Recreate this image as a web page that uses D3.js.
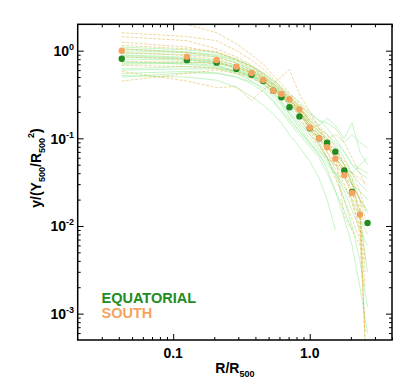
<!DOCTYPE html>
<html>
<head>
<meta charset="utf-8">
<script src="https://cdn.jsdelivr.net/npm/d3@7"></script>
<style>
  body { margin: 0; background: #fff; }
  svg { display: block; font-family: "Liberation Sans", Arial, sans-serif; }
</style>
</head>
<body>
<svg id="chart" width="415" height="390"></svg>
<script>
// mean profiles (dots)
const eqX = [0.042, 0.126, 0.208, 0.29, 0.375, 0.456, 0.54, 0.62, 0.71, 0.84, 1.0, 1.17, 1.34, 1.54, 1.79, 2.04, 2.65];
const eqY = [0.81, 0.78, 0.73, 0.62, 0.53, 0.45, 0.35, 0.294, 0.226, 0.178, 0.13, 0.10, 0.089, 0.0705, 0.043, 0.0244, 0.0108];
const soX = [0.042, 0.126, 0.208, 0.29, 0.375, 0.456, 0.54, 0.62, 0.71, 0.84, 1.0, 1.17, 1.34, 1.54, 1.79, 2.04, 2.33];
const soY = [1.0, 0.855, 0.783, 0.657, 0.556, 0.463, 0.35, 0.321, 0.279, 0.214, 0.132, 0.100, 0.079, 0.0586, 0.0379, 0.0238, 0.0135];

// individual cluster profiles
const eqLineX = [0.042, 0.126, 0.208, 0.29, 0.375, 0.456, 0.54, 0.62, 0.71, 0.84, 1.0, 1.17, 1.34, 1.54, 1.79, 2.04, 2.33, 2.65];
const eqLines = [
  [1.10, 1.02, 0.95, 0.80, 0.66, 0.55, 0.45, 0.37, 0.30, 0.24, 0.19, 0.16, 0.15, 0.13, 0.09, 0.11, 0.09, 0.078],
  [0.50, 0.56, 0.55, 0.50, 0.44, 0.38, 0.30, 0.24, 0.17, 0.12, 0.085, 0.065, 0.045, 0.025, 0.012, 0.006, 0.002, 0.0006],
  [0.95, 0.90, 0.85, 0.72, 0.60, 0.50, 0.40, 0.33, 0.26, 0.20, 0.15, 0.12, 0.10, 0.085, 0.06, 0.04, 0.03, 0.025],
  [0.70, 0.72, 0.68, 0.58, 0.50, 0.42, 0.33, 0.26, 0.20, 0.15, 0.11, 0.085, 0.06, 0.04, 0.025, 0.015, 0.009, 0.006],
  [0.85, 0.80, 0.70, 0.55, 0.45, 0.36, 0.26, 0.20, 0.15, 0.11, 0.08, 0.06, 0.04, 0.025, 0.015, 0.009],
  [0.60, 0.62, 0.62, 0.56, 0.50, 0.44, 0.38, 0.32, 0.27, 0.22, 0.16, 0.13, 0.11, 0.09, 0.07, 0.05, 0.045, 0.04],
  [1.00, 0.95, 0.88, 0.75, 0.62, 0.52, 0.42, 0.34, 0.26, 0.19, 0.13, 0.09, 0.06, 0.04, 0.028, 0.02, 0.012, 0.008],
  [0.75, 0.70, 0.66, 0.60, 0.52, 0.45, 0.37, 0.30, 0.24, 0.19, 0.14, 0.11, 0.09, 0.072, 0.05, 0.03, 0.02, 0.014],
  [0.90, 0.84, 0.75, 0.62, 0.52, 0.43, 0.34, 0.27, 0.19, 0.13, 0.09, 0.065, 0.05, 0.04, 0.035, 0.03, 0.025, 0.02],
  [0.55, 0.58, 0.56, 0.50, 0.42, 0.34, 0.27, 0.21, 0.16, 0.12, 0.09, 0.07, 0.06, 0.05, 0.04, 0.03, 0.02, 0.015],
  [0.80, 0.78, 0.74, 0.66, 0.57, 0.50, 0.42, 0.35, 0.29, 0.23, 0.17, 0.14, 0.17, 0.14, 0.10, 0.15, 0.07, 0.05],
  [0.52, 0.50, 0.46, 0.38, 0.30, 0.24, 0.19, 0.15, 0.11, 0.08, 0.055, 0.035, 0.02, 0.009],
  [1.05, 0.97, 0.90, 0.78, 0.67, 0.56, 0.46, 0.38, 0.32, 0.26, 0.20, 0.16, 0.13, 0.10, 0.07, 0.05, 0.04, 0.035],
  [0.72, 0.74, 0.72, 0.63, 0.54, 0.46, 0.38, 0.31, 0.25, 0.20, 0.14, 0.11, 0.085, 0.065, 0.05, 0.035, 0.012, 0.003],
  [0.88, 0.82, 0.78, 0.68, 0.58, 0.49, 0.40, 0.32, 0.23, 0.16, 0.12, 0.10, 0.08, 0.06, 0.045, 0.04, 0.05, 0.06],
  [0.62, 0.66, 0.64, 0.58, 0.50, 0.41, 0.32, 0.25, 0.19, 0.14, 0.10, 0.075, 0.055, 0.038, 0.02, 0.01, 0.004, 0.0012]
];
const soLineX = [0.042, 0.126, 0.208, 0.29, 0.375, 0.456, 0.54, 0.62, 0.71, 0.84, 1.0, 1.17, 1.34, 1.54, 1.79, 2.04, 2.33, 2.55];
const soLines = [
  [2.3, 2.0, 1.6, 1.2, 0.9, 0.7, 0.52, 0.42, 0.33, 0.25, 0.18, 0.14, 0.11, 0.08, 0.05, 0.03, 0.015, 0.004],
  [1.6, 1.45, 1.3, 1.0, 0.78, 0.62, 0.48, 0.38, 0.30, 0.23, 0.16, 0.12, 0.09, 0.07, 0.05, 0.03, 0.02, 0.012],
  [1.45, 1.30, 1.05, 0.85, 0.68, 0.55, 0.44, 0.36, 0.28, 0.20, 0.14, 0.10, 0.07, 0.05, 0.035, 0.025, 0.012, 0.0004],
  [0.58, 0.45, 0.38, 0.39, 0.27, 0.36, 0.42, 0.50, 0.61, 0.32, 0.20, 0.13, 0.09, 0.06, 0.04, 0.025, 0.015, 0.01],
  [0.45, 0.55, 0.60, 0.55, 0.48, 0.42, 0.35, 0.30, 0.25, 0.19, 0.13, 0.10, 0.08, 0.06, 0.04, 0.02, 0.008, 0.002],
  [1.05, 0.95, 0.85, 0.72, 0.60, 0.50, 0.38, 0.33, 0.28, 0.22, 0.15, 0.11, 0.085, 0.065, 0.013, 0.009, 0.006],
  [0.85, 0.80, 0.75, 0.65, 0.55, 0.46, 0.36, 0.31, 0.27, 0.21, 0.13, 0.10, 0.08, 0.06, 0.045, 0.035, 0.02, 0.0004],
  [0.68, 0.66, 0.63, 0.58, 0.52, 0.45, 0.37, 0.32, 0.27, 0.22, 0.16, 0.13, 0.10, 0.11, 0.09, 0.06, 0.04, 0.03],
  [1.25, 1.10, 0.95, 0.78, 0.64, 0.52, 0.40, 0.34, 0.28, 0.21, 0.14, 0.10, 0.07, 0.045, 0.03, 0.018, 0.01, 0.003],
  [0.95, 0.88, 0.80, 0.68, 0.57, 0.48, 0.34, 0.30, 0.26, 0.20, 0.12, 0.085, 0.06, 0.05, 0.045, 0.04, 0.035, 0.03],
  [0.75, 0.74, 0.72, 0.64, 0.56, 0.47, 0.36, 0.29, 0.24, 0.18, 0.11, 0.08, 0.06, 0.035, 0.02, 0.012, 0.007, 0.0006],
  [1.15, 1.05, 0.98, 0.80, 0.66, 0.54, 0.42, 0.36, 0.29, 0.23, 0.15, 0.12, 0.095, 0.075, 0.055, 0.04, 0.025, 0.015]
];

const xMajor = [0.1, 1];
const xMajorLabels = ["0.1", "1.0"];
const xMinor = [0.03, 0.04, 0.05, 0.06, 0.07, 0.08, 0.09, 0.2, 0.3, 0.4, 0.5, 0.6, 0.7, 0.8, 0.9, 2, 3, 4];
const yMajor = [1e-3, 1e-2, 1e-1, 1];
const yMajorExp = ["-3", "-2", "-1", "0"];
const yMinor = [6e-4, 7e-4, 8e-4, 9e-4, 2e-3, 3e-3, 4e-3, 5e-3, 6e-3, 7e-3, 8e-3, 9e-3,
  0.02, 0.03, 0.04, 0.05, 0.06, 0.07, 0.08, 0.09, 0.2, 0.3, 0.4, 0.5, 0.6, 0.7, 0.8, 0.9];
const legend = [
  { name: "EQUATORIAL", color: "#228B22" },
  { name: "SOUTH", color: "#F4A460" }
];

const svg = d3.select("#chart");
const m = { left: 77.7, right: 392, top: 24.3, bottom: 340 };
const x = d3.scaleLog().domain([0.02, 4]).range([m.left, m.right]);
const y = d3.scaleLog().domain([5e-4, 2]).range([m.bottom, m.top]);

svg.append("defs").append("clipPath").attr("id", "plotclip")
  .append("rect").attr("x", m.left).attr("y", m.top)
  .attr("width", m.right - m.left).attr("height", m.bottom - m.top);

const plot = svg.append("g").attr("clip-path", "url(#plotclip)");

const line = xs => d3.line().x((d, i) => x(xs[i])).y(d => y(d));

plot.append("g").attr("class", "eq-lines")
  .selectAll("path").data(eqLines).join("path")
  .attr("d", d => line(eqLineX)(d))
  .attr("fill", "none")
  .attr("stroke", "#98ec98")
  .attr("stroke-opacity", 0.7)
  .attr("stroke-width", 0.8);

plot.append("g").attr("class", "so-lines")
  .selectAll("path").data(soLines).join("path")
  .attr("d", d => line(soLineX)(d))
  .attr("fill", "none")
  .attr("stroke", "#DAA520")
  .attr("stroke-opacity", 0.55)
  .attr("stroke-width", 0.8)
  .attr("stroke-dasharray", "3,1.5");

plot.append("g").attr("class", "eq-dots")
  .selectAll("circle").data(eqY).join("circle")
  .attr("cx", (d, i) => x(eqX[i]))
  .attr("cy", d => y(d))
  .attr("r", 3.2)
  .attr("fill", "#228B22");

plot.append("g").attr("class", "so-dots")
  .selectAll("circle").data(soY).join("circle")
  .attr("cx", (d, i) => x(soX[i]))
  .attr("cy", d => y(d))
  .attr("r", 3.2)
  .attr("fill", "#F4A460");

// axes: ticks point inwards on all four sides, minor 3px, major 6px
const axes = [
  [() => d3.axisBottom(x), `translate(0,${m.bottom})`, xMinor, xMajor],
  [() => d3.axisTop(x), `translate(0,${m.top})`, xMinor, xMajor],
  [() => d3.axisLeft(y), `translate(${m.left},0)`, yMinor, yMajor],
  [() => d3.axisRight(y), `translate(${m.right},0)`, yMinor, yMajor]
];
axes.forEach(([mk, tr, minor, major]) => {
  [[minor, -3], [major, -6]].forEach(([vals, size]) => {
    svg.append("g").attr("transform", tr)
      .call(mk().tickValues(vals).tickSize(size).tickFormat(""))
      .call(g => g.select(".domain").remove());
  });
});
svg.selectAll(".tick line").attr("stroke", "#000").attr("stroke-width", 1);

svg.append("rect")
  .attr("x", m.left).attr("y", m.top)
  .attr("width", m.right - m.left).attr("height", m.bottom - m.top)
  .attr("fill", "none").attr("stroke", "#000").attr("stroke-width", 1.5);

// tick labels
svg.append("g").selectAll("text").data(xMajor).join("text")
  .attr("x", d => x(d)).attr("y", 358)
  .attr("text-anchor", "middle")
  .attr("font-size", 14).attr("font-weight", "bold")
  .text((d, i) => xMajorLabels[i]);

const yl = svg.append("g").selectAll("text").data(yMajor).join("text")
  .attr("x", 74).attr("y", d => y(d) + 5.5)
  .attr("text-anchor", "end")
  .attr("font-size", 14).attr("font-weight", "bold");
yl.append("tspan").text("10");
yl.append("tspan").attr("font-size", 9).attr("dy", -6).text((d, i) => yMajorExp[i]);

// axis titles
const xt = svg.append("text")
  .attr("x", (m.left + m.right) / 2).attr("y", 373)
  .attr("text-anchor", "middle")
  .attr("font-size", 14).attr("font-weight", "bold");
xt.append("tspan").text("R/R");
xt.append("tspan").attr("font-size", 9).attr("dy", 4).text("500");

const yt = svg.append("text")
  .attr("transform", "translate(41,168) rotate(-90)")
  .attr("text-anchor", "middle")
  .attr("font-size", 14).attr("font-weight", "bold");
yt.append("tspan").text("y/(Y");
yt.append("tspan").attr("font-size", 9).attr("dy", 4).text("500");
yt.append("tspan").attr("dy", -4).text("/R");
yt.append("tspan").attr("font-size", 9).attr("dy", 4).text("500");
yt.append("tspan").attr("font-size", 9).attr("dy", -11).text("2");
yt.append("tspan").attr("dy", 7).text(")");

// legend
svg.append("g").selectAll("text").data(legend).join("text")
  .attr("x", 101.5).attr("y", (d, i) => 302.5 + i * 15)
  .attr("font-size", 14.5).attr("font-weight", "bold")
  .attr("fill", d => d.color)
  .text(d => d.name);
</script>
</body>
</html>
